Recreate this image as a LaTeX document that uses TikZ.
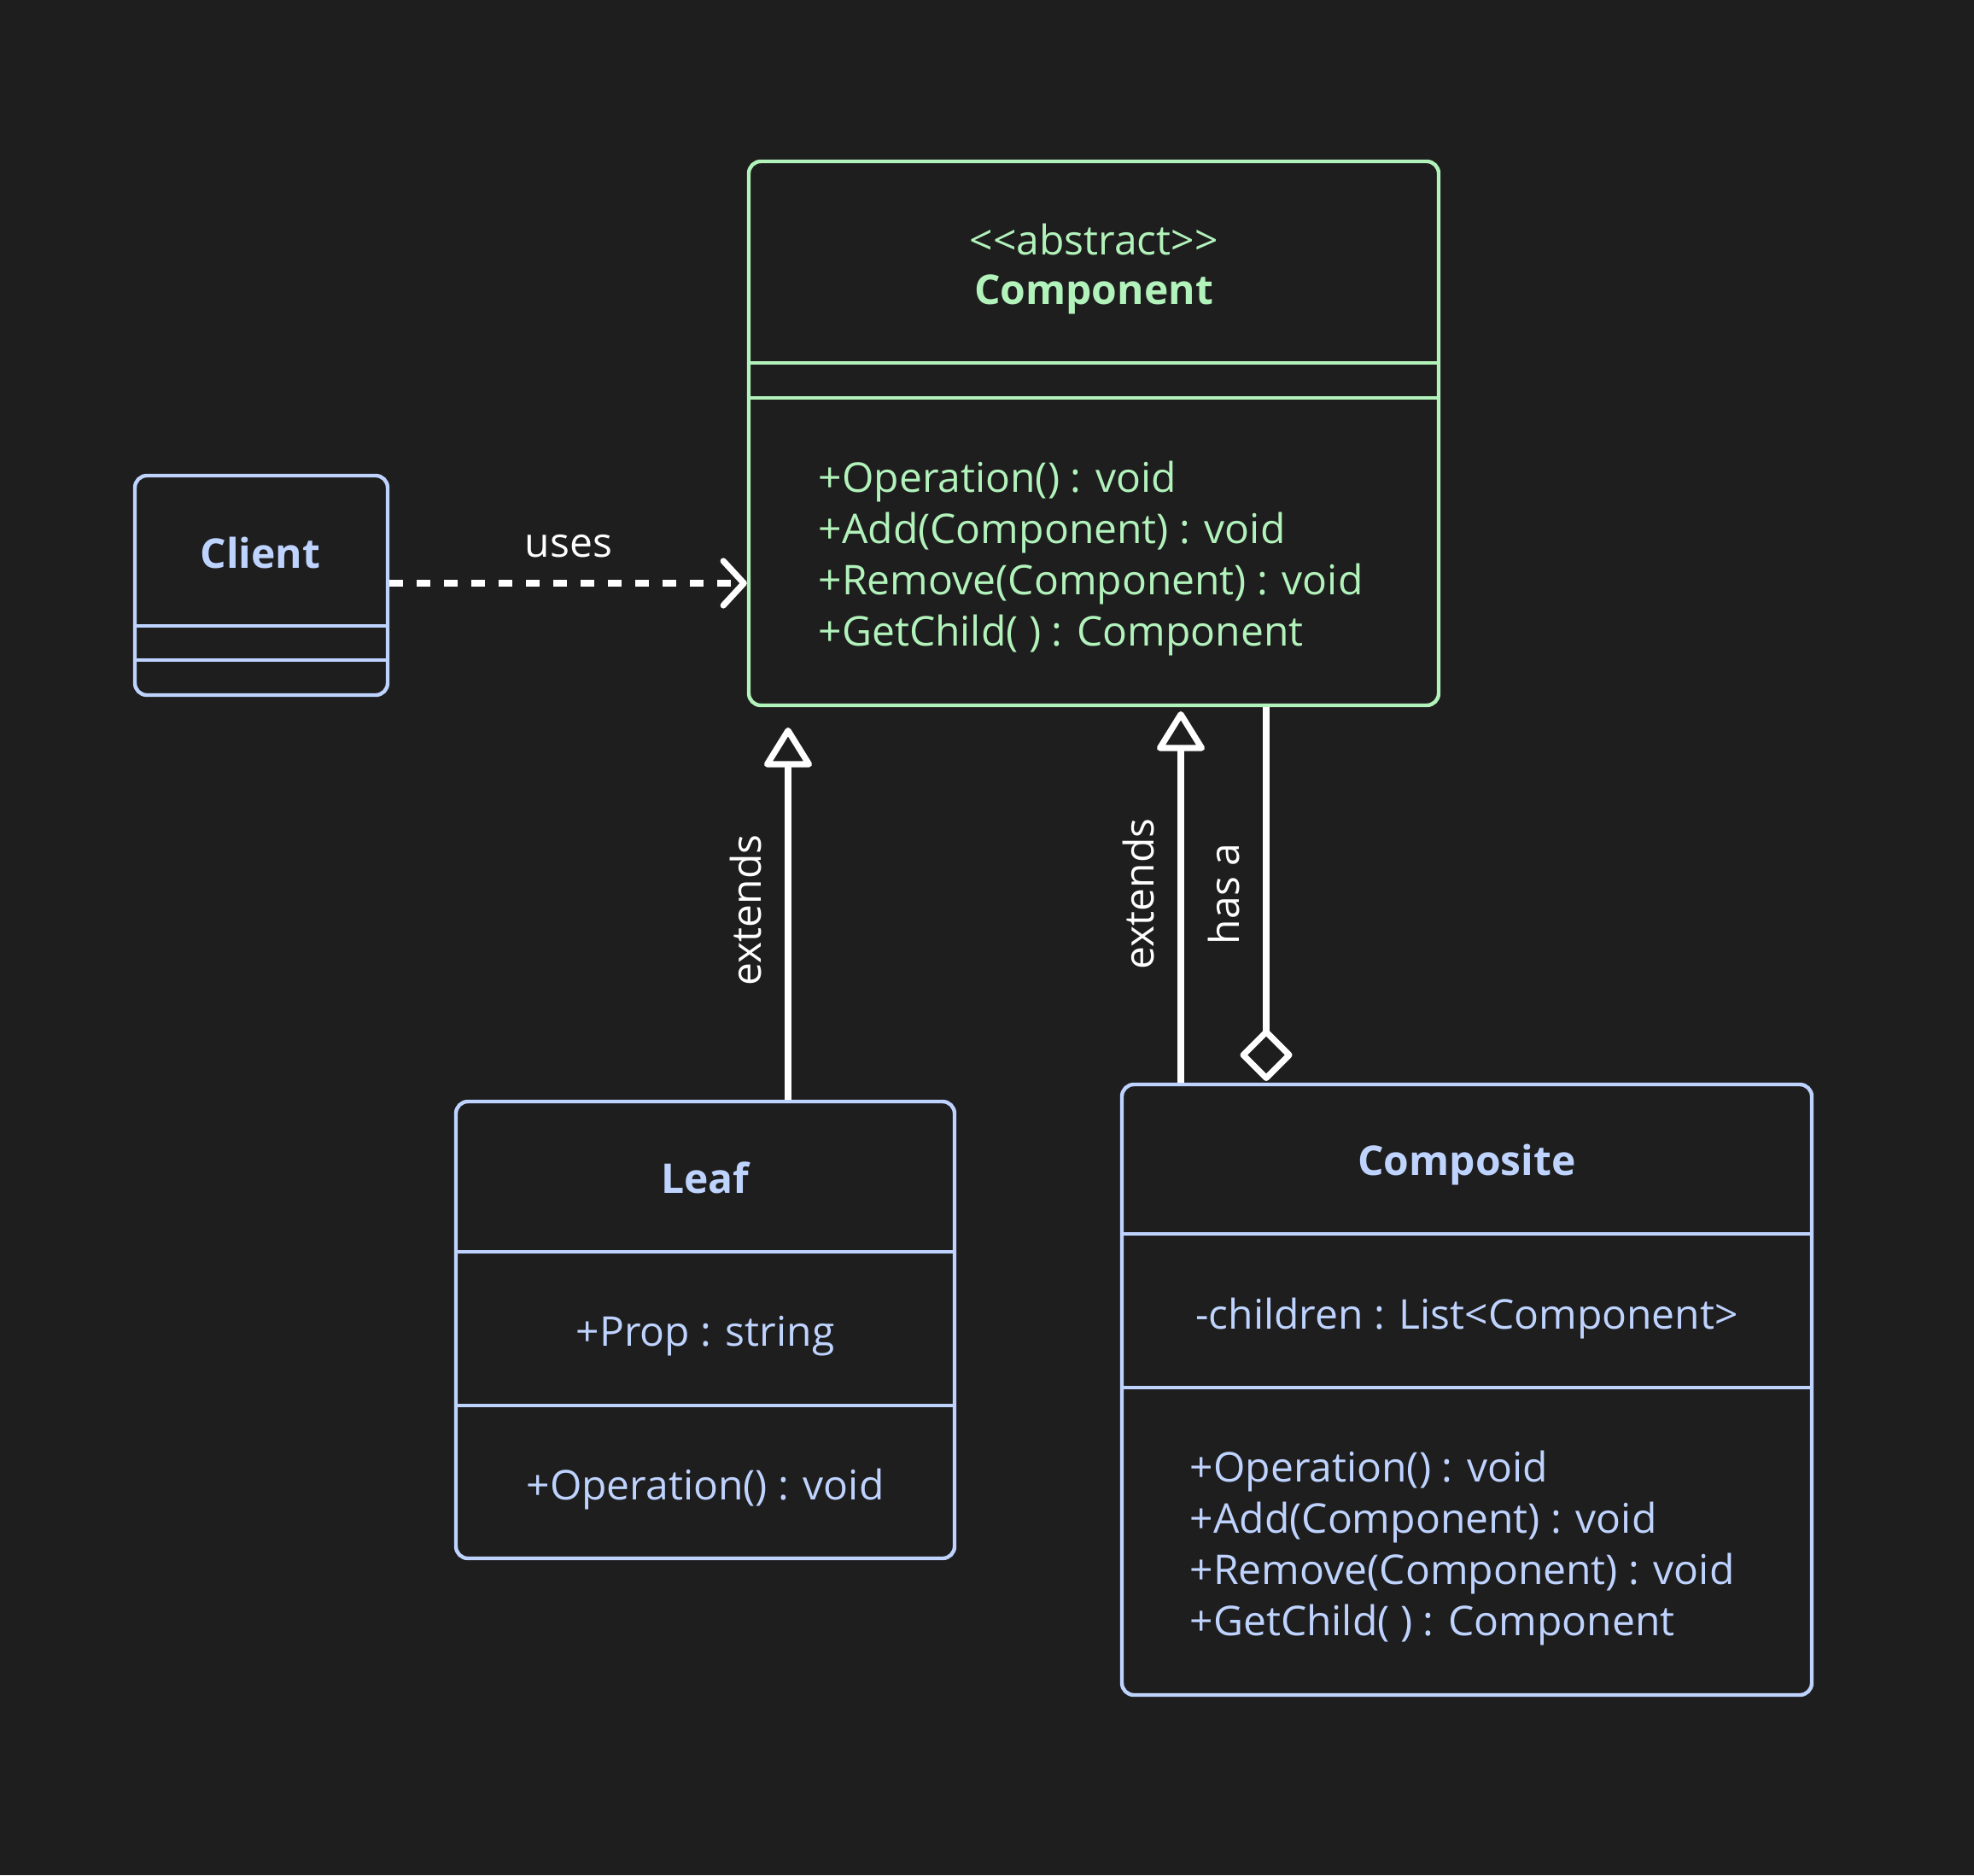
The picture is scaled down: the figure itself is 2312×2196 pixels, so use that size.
\documentclass[tikz,border=0pt]{standalone}
\usepackage{fontspec}
\setmainfont{Open Sans}
\usetikzlibrary{arrows.meta}
\definecolor{bg}{HTML}{1E1E1E}
\definecolor{grn}{HTML}{B2F2BB}
\definecolor{blu}{HTML}{BFD3FF}
\begin{document}
\begin{tikzpicture}[x=0.25pt,y=-0.25pt,
  box/.style={draw, line width=1.1pt, rounded corners=3.5pt, inner sep=0pt},
  gbox/.style={box, draw=grn},
  bbox/.style={box, draw=blu},
  sep/.style={line width=1.1pt},
  txt/.style={font=\fontsize{12}{15}\selectfont, inner sep=0pt},
  ttl/.style={inner sep=0pt, font=\fontsize{12}{15}\selectfont\bfseries},
  conn/.style={draw=white, line width=1.8pt},
  lbl/.style={txt, text=white},
  tri/.style={-{Triangle[open, length=12.5pt, width=15pt, line join=round]}},
]
\fill[bg] (0,0) rectangle (2312,2196);
\useasboundingbox (0,0) rectangle (2312,2196);

% Component
\node[gbox, minimum width=202pt, minimum height=159.25pt] (comp) at (1281,507.5) {};
\draw[sep, grn] (comp.west |- 0,425) -- (comp.east |- 0,425);
\draw[sep, grn] (comp.west |- 0,466) -- (comp.east |- 0,466);
\node[txt, text=grn] (stereo) at (1281,280) {<\kern0pt<abstract>\kern0pt>};
\node[ttl, text=grn] (compname) at (1281,345) {Component};
\node[txt, text=grn, align=left, anchor=west] (compops) at (958,654) {+Operation() : void\\+Add(Component) : void\\+Remove(Component) : void\\+GetChild( ) : Component};

% Client
\node[bbox, minimum width=74pt, minimum height=64.25pt] (client) at (306,685.5) {};
\draw[sep, blu] (client.west |- 0,733) -- (client.east |- 0,733);
\draw[sep, blu] (client.west |- 0,773) -- (client.east |- 0,773);
\node[ttl, text=blu] (clientname) at (305,647) {Client};

% Leaf
\node[bbox, minimum width=146pt, minimum height=133.75pt] (leaf) at (826,1557.5) {};
\draw[sep, blu] (leaf.west |- 0,1466) -- (leaf.east |- 0,1466);
\draw[sep, blu] (leaf.west |- 0,1646) -- (leaf.east |- 0,1646);
\node[ttl, text=blu] (leafname) at (826,1379) {Leaf};
\node[txt, text=blu] (leafprop) at (826,1565) {+Prop : string};
\node[txt, text=blu] (leafop) at (826,1744) {+Operation() : void};

% Composite
\node[bbox, minimum width=202pt, minimum height=178.75pt] (compo) at (1718,1627.5) {};
\draw[sep, blu] (compo.west |- 0,1445) -- (compo.east |- 0,1445);
\draw[sep, blu] (compo.west |- 0,1625) -- (compo.east |- 0,1625);
\node[ttl, text=blu] (componame) at (1718,1364) {Composite};
\node[txt, text=blu] (compochild) at (1718,1544) {-children : List<Component>};
\node[txt, text=blu, align=left, anchor=west] (compoops) at (1393,1813) {+Operation() : void\\+Add(Component) : void\\+Remove(Component) : void\\+GetChild( ) : Component};

% Connectors
\draw[conn, dash pattern=on 4pt off 4pt, -{Straight Barb[length=6pt, width=13pt, line cap=round, line join=round]}]
  (client.east |- 0,683) -- (comp.west |- 0,683);
\node[lbl] (uses) at (666,640) {uses};

\coordinate (lt) at (923,852);
\draw[conn, tri] (lt |- leaf.north) -- (lt);
\node[lbl, rotate=90] (ext1) at (873,1066) {extends};

\coordinate (ct) at (1383,833);
\draw[conn, tri] (ct |- compo.north) -- (ct);
\node[lbl, rotate=90] (ext2) at (1333,1047) {extends};

\coordinate (ht) at (1483,1266);
\draw[conn, -{Diamond[open, length=16pt, width=16pt, line join=round]}] (ht |- comp.south) -- (ht);
\node[lbl, rotate=90] (hasa) at (1433,1047) {has a};
\end{tikzpicture}
\end{document}
